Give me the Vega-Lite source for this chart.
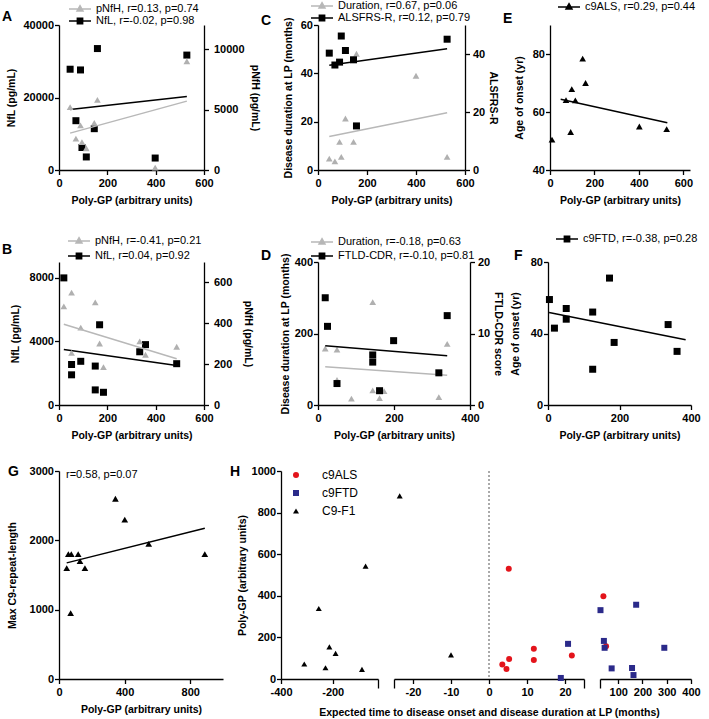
{
"$schema":"https://vega.github.io/schema/vega-lite/v6.json",
"padding":{"left":2,"top":0,"right":2,"bottom":0},
"config":{
 "font":"Liberation Sans",
 "view":{"stroke":null},
 "axis":{"domainColor":"#000000","domainWidth":1.3,"tickColor":"#000000","tickWidth":1.3,"labelFont":"Liberation Sans","labelFontSize":11,"labelFontWeight":"bold","labelColor":"#000000","titleFont":"Liberation Sans","titleFontSize":10.5,"titleFontWeight":"bold","titleColor":"#000000","grid":false,"labelOverlap":false,"labelFlush":false,"labelPadding":1},
 "axisX":{"labelPadding":3,"titlePadding":7},
 "axisRight":{"labelPadding":3},
 "legend":{"labelFont":"Liberation Sans","labelFontSize":11,"labelColor":"#000000","padding":0,"titleFont":"Liberation Sans","titleColor":"#000000"}
},
"resolve":{"scale":{"stroke":"independent","color":"independent","shape":"independent","opacity":"independent"},"legend":{"stroke":"independent","color":"independent","shape":"independent","opacity":"independent"}},
"vconcat":[
 {"vconcat":[
 {"hconcat":[
  {"hconcat":[
   {"width":145,"height":145,
    "layer":[
     {"layer":[
      {"data":{"values":[{"x":46,"y":27800},{"x":89,"y":27600},{"x":159,"y":33500},{"x":70,"y":13600},{"x":146,"y":11400},{"x":95,"y":6200},{"x":113,"y":3600},{"x":398,"y":3300},{"x":529,"y":31700}]},
       "mark":{"type":"point","shape":"square","filled":true,"size":49,"color":"#000000","opacity":1},
       "encoding":{
        "x":{"field":"x","type":"quantitative","title":"Poly-GP (arbitrary units)","scale":{"domain":[0,600],"nice":false},"axis":{"values":[0,100,200,300,400,500,600],"labelOverlap":false,"labelExpr":"datum.value % 200 === 0 ? '' + datum.value : ''","tickSize":{"condition":{"test":"datum.value % 200 === 0","value":4.5},"value":2.5}}},
        "y":{"field":"y","type":"quantitative","title":"NfL (pg/mL)","scale":{"domain":[0,40000],"nice":false},"axis":{"values":[0,5000,10000,15000,20000,25000,30000,35000,40000],"labelOverlap":false,"labelExpr":"datum.value % 10000 === 0 ? '' + datum.value : ''","tickSize":{"condition":{"test":"datum.value % 10000 === 0","value":4.5},"value":2.5},"titlePadding":6}}}},
      {"data":{"values":[{"x":46,"y":16700,"g":"NfL, r=-0.02, p=0.98","p":"A"},{"x":529,"y":20300,"g":"NfL, r=-0.02, p=0.98","p":"A"}]},
       "mark":{"type":"line","strokeWidth":1.5},
       "encoding":{
        "x":{"field":"x","type":"quantitative","title":"Poly-GP (arbitrary units)","scale":{"domain":[0,600],"nice":false}},
        "y":{"field":"y","type":"quantitative","title":"NfL (pg/mL)","scale":{"domain":[0,40000],"nice":false}},
        "opacity":{"field":"p","type":"nominal","scale":{"range":[1]},"legend":{"orient":"none","legendX":-57,"legendY":-15,"title":"A","titleOrient":"left","titleAnchor":"start","titleAlign":"left","titleBaseline":"top","titleFontSize":14,"titleFontWeight":"bold","titlePadding":0,"labelExpr":"''","labelOpacity":0,"symbolOpacity":0,"symbolStrokeWidth":0,"padding":0,"encode":{"symbols":{"update":{"opacity":{"value":0}}}}}},
        "stroke":{"field":"g","type":"nominal","scale":{"domain":["pNfH, r=0.13, p=0.74","NfL, r=-0.02, p=0.98"],"range":["#b8b8b8","#000000"]},
         "legend":{"orient":"none","legendX":9,"legendY":-22,"title":null,"symbolSize":484,"clipHeight":12,"rowPadding":0,"labelOffset":4,"padding":0,
          "encode":{"symbols":{"update":{
           "shape":[{"test":"indexof(datum.value,'pNfH')===0","value":"M-1,0H1M0,-0.3L0.27,0.18L-0.27,0.18Z"},{"value":"M-1,0H1M-0.24,-0.24H0.24V0.24H-0.24Z"}],
           "fill":[{"test":"indexof(datum.value,'pNfH')===0","value":"#b0b0b0"},{"value":"#000000"}],
           "stroke":[{"test":"indexof(datum.value,'pNfH')===0","value":"#b8b8b8"},{"value":"#000000"}],
           "strokeWidth":{"value":1.5},"opacity":{"value":1}}}}}}}}
     ]},
     {"layer":[
      {"data":{"values":[{"x":46,"y":5200},{"x":70,"y":2600},{"x":89,"y":3700},{"x":95,"y":2300},{"x":113,"y":1800},{"x":146,"y":3900},{"x":159,"y":5800},{"x":398,"y":200},{"x":529,"y":9000}]},
       "mark":{"type":"point","shape":"triangle-up","filled":true,"size":45,"color":"#b0b0b0","opacity":1},
       "encoding":{
        "x":{"field":"x","type":"quantitative","title":"Poly-GP (arbitrary units)","scale":{"domain":[0,600],"nice":false}},
        "y":{"field":"y","type":"quantitative","title":"pNfH (pg/mL)","scale":{"domain":[0,12000],"nice":false},"axis":{"orient":"right","values":[0,2500,5000,7500,10000],"labelOverlap":false,"labelPadding":5,"labelExpr":"datum.value % 5000 === 0 ? '' + datum.value : ''","tickSize":{"condition":{"test":"datum.value % 5000 === 0","value":4.5},"value":2.5},"titleAngle":90,"titlePadding":5}}}},
      {"data":{"values":[{"x":46,"y":3050,"g":"pNfH, r=0.13, p=0.74"},{"x":529,"y":5700,"g":"pNfH, r=0.13, p=0.74"}]},
       "mark":{"type":"line","strokeWidth":1.5},
       "encoding":{
        "x":{"field":"x","type":"quantitative","title":"Poly-GP (arbitrary units)","scale":{"domain":[0,600],"nice":false}},
        "y":{"field":"y","type":"quantitative","title":"pNfH (pg/mL)","scale":{"domain":[0,12000],"nice":false}},
        "stroke":{"field":"g","type":"nominal","scale":{"domain":["pNfH, r=0.13, p=0.74","NfL, r=-0.02, p=0.98"],"range":["#b8b8b8","#000000"]}}}}
     ]}
    ],
    "resolve":{"scale":{"y":"independent"}}},
   {"width":147,"height":145,
    "layer":[
     {"layer":[
      {"data":{"values":[{"x":46,"y":4.7},{"x":69,"y":3.6},{"x":88,"y":11.6},{"x":95,"y":5.4},{"x":112,"y":21.3},{"x":145,"y":11.6},{"x":157,"y":48.1},{"x":400,"y":39},{"x":527,"y":5.4}]},
       "mark":{"type":"point","shape":"triangle-up","filled":true,"size":45,"color":"#b0b0b0","opacity":1},
       "encoding":{
        "x":{"field":"x","type":"quantitative","title":"Poly-GP (arbitrary units)","scale":{"domain":[0,600],"nice":false},"axis":{"values":[0,100,200,300,400,500,600],"labelOverlap":false,"labelExpr":"datum.value % 200 === 0 ? '' + datum.value : ''","tickSize":{"condition":{"test":"datum.value % 200 === 0","value":4.5},"value":2.5}}},
        "y":{"field":"y","type":"quantitative","title":"Disease duration at LP (months)","scale":{"domain":[0,60],"nice":false},"axis":{"values":[0,10,20,30,40,50,60],"labelOverlap":false,"labelExpr":"datum.value % 20 === 0 ? '' + datum.value : ''","tickSize":{"condition":{"test":"datum.value % 20 === 0","value":4.5},"value":2.5},"titlePadding":7}}}},
      {"data":{"values":[{"x":46,"y":13.9,"g":"Duration, r=0.67, p=0.06","p":"C"},{"x":527,"y":23.7,"g":"Duration, r=0.67, p=0.06","p":"C"}]},
       "mark":{"type":"line","strokeWidth":1.5},
       "encoding":{
        "x":{"field":"x","type":"quantitative","title":"Poly-GP (arbitrary units)","scale":{"domain":[0,600],"nice":false}},
        "y":{"field":"y","type":"quantitative","title":"Disease duration at LP (months)","scale":{"domain":[0,60],"nice":false}},
        "opacity":{"field":"p","type":"nominal","scale":{"range":[1]},"legend":{"orient":"none","legendX":-57,"legendY":-11,"title":"C","titleOrient":"left","titleAnchor":"start","titleAlign":"left","titleBaseline":"top","titleFontSize":14,"titleFontWeight":"bold","titlePadding":0,"labelExpr":"''","labelOpacity":0,"symbolOpacity":0,"symbolStrokeWidth":0,"padding":0,"encode":{"symbols":{"update":{"opacity":{"value":0}}}}}},
        "stroke":{"field":"g","type":"nominal","scale":{"domain":["Duration, r=0.67, p=0.06","ALSFRS-R, r=0.12, p=0.79"],"range":["#b8b8b8","#000000"]},
         "legend":{"orient":"none","legendX":-8,"legendY":-25,"title":null,"symbolSize":484,"clipHeight":12,"rowPadding":0,"labelOffset":4,"padding":0,
          "encode":{"symbols":{"update":{
           "shape":[{"test":"indexof(datum.value,'Duration')===0","value":"M-1,0H1M0,-0.3L0.27,0.18L-0.27,0.18Z"},{"value":"M-1,0H1M-0.24,-0.24H0.24V0.24H-0.24Z"}],
           "fill":[{"test":"indexof(datum.value,'Duration')===0","value":"#b0b0b0"},{"value":"#000000"}],
           "stroke":[{"test":"indexof(datum.value,'Duration')===0","value":"#b8b8b8"},{"value":"#000000"}],
           "strokeWidth":{"value":1.5},"opacity":{"value":1}}}}}}}}
     ]},
     {"layer":[
      {"data":{"values":[{"x":46,"y":40.3},{"x":69,"y":36.2},{"x":88,"y":37.2},{"x":95,"y":46.2},{"x":112,"y":41.2},{"x":145,"y":38},{"x":157,"y":15.2},{"x":527,"y":45.1}]},
       "mark":{"type":"point","shape":"square","filled":true,"size":49,"color":"#000000","opacity":1},
       "encoding":{
        "x":{"field":"x","type":"quantitative","title":"Poly-GP (arbitrary units)","scale":{"domain":[0,600],"nice":false}},
        "y":{"field":"y","type":"quantitative","title":"ALSFRS-R","scale":{"domain":[0,50],"nice":false},"axis":{"orient":"right","values":[0,10,20,30,40,50],"labelOverlap":false,"tickSize":4.5,"titleAngle":90,"titlePadding":3}}}},
      {"data":{"values":[{"x":46,"y":36.1,"g":"ALSFRS-R, r=0.12, p=0.79"},{"x":527,"y":41.8,"g":"ALSFRS-R, r=0.12, p=0.79"}]},
       "mark":{"type":"line","strokeWidth":1.5},
       "encoding":{
        "x":{"field":"x","type":"quantitative","title":"Poly-GP (arbitrary units)","scale":{"domain":[0,600],"nice":false}},
        "y":{"field":"y","type":"quantitative","title":"ALSFRS-R","scale":{"domain":[0,50],"nice":false}},
        "stroke":{"field":"g","type":"nominal","scale":{"domain":["Duration, r=0.67, p=0.06","ALSFRS-R, r=0.12, p=0.79"],"range":["#b8b8b8","#000000"]}}}}
     ]}
    ],
    "resolve":{"scale":{"y":"independent"}}}
  ],"spacing":114,"bounds":"flush","resolve":{"scale":{"stroke":"independent","color":"independent","shape":"independent","opacity":"independent"},"legend":{"stroke":"independent","color":"independent","shape":"independent","opacity":"independent"}}},
  {"width":140,"height":145,
   "layer":[
    {"data":{"values":[{"x":9,"y":50.5},{"x":72,"y":64.1},{"x":93,"y":53.1},{"x":98,"y":67.9},{"x":114,"y":64},{"x":147,"y":78.4},{"x":160,"y":70},{"x":402,"y":55},{"x":525,"y":54.1}]},
     "mark":{"type":"point","shape":"triangle-up","filled":true,"size":45,"color":"#000000","opacity":1},
     "encoding":{
      "x":{"field":"x","type":"quantitative","title":"Poly-GP (arbitrary units)","scale":{"domain":[0,630],"nice":false},"axis":{"values":[0,100,200,300,400,500,600],"labelOverlap":false,"labelExpr":"datum.value % 200 === 0 ? '' + datum.value : ''","tickSize":{"condition":{"test":"datum.value % 200 === 0","value":4.5},"value":2.5}}},
      "y":{"field":"y","type":"quantitative","title":"Age of onset (yr)","scale":{"domain":[40,90],"nice":false,"zero":false},"axis":{"values":[40,45,50,55,60,65,70,75,80,85,90],"labelOverlap":false,"labelExpr":"datum.value % 10 === 0 ? '' + datum.value : ''","tickSize":{"condition":{"test":"datum.value % 10 === 0","value":4.5},"value":2.5},"titlePadding":8}}}},
    {"data":{"values":[{"x":48,"y":64.4,"g":"c9ALS, r=0.29, p=0.44","p":"E"},{"x":528,"y":56.3,"g":"c9ALS, r=0.29, p=0.44","p":"E"}]},
     "mark":{"type":"line","strokeWidth":1.5},
     "encoding":{
      "x":{"field":"x","type":"quantitative","title":"Poly-GP (arbitrary units)","scale":{"domain":[0,630],"nice":false}},
      "y":{"field":"y","type":"quantitative","title":"Age of onset (yr)","scale":{"domain":[40,90],"nice":false,"zero":false}},
      "opacity":{"field":"p","type":"nominal","scale":{"range":[1]},"legend":{"orient":"none","legendX":-47,"legendY":-13,"title":"E","titleOrient":"left","titleAnchor":"start","titleAlign":"left","titleBaseline":"top","titleFontSize":14,"titleFontWeight":"bold","titlePadding":0,"labelExpr":"''","labelOpacity":0,"symbolOpacity":0,"symbolStrokeWidth":0,"padding":0,"encode":{"symbols":{"update":{"opacity":{"value":0}}}}}},
      "stroke":{"field":"g","type":"nominal","scale":{"range":["#000000"]},
       "legend":{"orient":"none","legendX":7,"legendY":-24,"title":null,"symbolSize":484,"clipHeight":12,"labelOffset":4,"padding":0,
        "encode":{"symbols":{"update":{"shape":{"value":"M-1,0H1M0,-0.3L0.27,0.18L-0.27,0.18Z"},"fill":{"value":"#000000"},"stroke":{"value":"#000000"},"strokeWidth":{"value":1.5},"opacity":{"value":1}}}}}}}}
   ]}
 ],"spacing":5,"resolve":{"scale":{"stroke":"independent","color":"independent","shape":"independent","opacity":"independent"},"legend":{"stroke":"independent","color":"independent","shape":"independent","opacity":"independent"}}},
 {"hconcat":[
  {"hconcat":[
   {"width":145,"height":143,
    "layer":[
     {"layer":[
      {"data":{"values":[{"x":20,"y":8000},{"x":52,"y":2550},{"x":52,"y":1900},{"x":90,"y":2750},{"x":168,"y":5050},{"x":150,"y":2450},{"x":150,"y":950},{"x":184,"y":800},{"x":334,"y":3350},{"x":358,"y":3800},{"x":487,"y":2600}]},
       "mark":{"type":"point","shape":"square","filled":true,"size":49,"color":"#000000","opacity":1},
       "encoding":{
        "x":{"field":"x","type":"quantitative","title":"Poly-GP (arbitrary units)","scale":{"domain":[0,600],"nice":false},"axis":{"values":[0,100,200,300,400,500,600],"labelOverlap":false,"labelExpr":"datum.value % 200 === 0 ? '' + datum.value : ''","tickSize":{"condition":{"test":"datum.value % 200 === 0","value":4.5},"value":2.5}}},
        "y":{"field":"y","type":"quantitative","title":"NfL (pg/mL)","scale":{"domain":[0,9000],"nice":false},"axis":{"values":[0,1000,2000,3000,4000,5000,6000,7000,8000,9000],"labelOverlap":false,"labelExpr":"datum.value % 2000 === 0 ? '' + datum.value : ''","tickSize":{"condition":{"test":"datum.value % 2000 === 0","value":4.5},"value":2.5},"titlePadding":9}}}},
      {"data":{"values":[{"x":20,"y":3490,"g":"NfL, r=0.04, p=0.92","p":"B"},{"x":487,"y":2480,"g":"NfL, r=0.04, p=0.92","p":"B"}]},
       "mark":{"type":"line","strokeWidth":1.5},
       "encoding":{
        "x":{"field":"x","type":"quantitative","title":"Poly-GP (arbitrary units)","scale":{"domain":[0,600],"nice":false}},
        "y":{"field":"y","type":"quantitative","title":"NfL (pg/mL)","scale":{"domain":[0,9000],"nice":false}},
        "opacity":{"field":"p","type":"nominal","scale":{"range":[1]},"legend":{"orient":"none","legendX":-57,"legendY":-19,"title":"B","titleOrient":"left","titleAnchor":"start","titleAlign":"left","titleBaseline":"top","titleFontSize":14,"titleFontWeight":"bold","titlePadding":0,"labelExpr":"''","labelOpacity":0,"symbolOpacity":0,"symbolStrokeWidth":0,"padding":0,"encode":{"symbols":{"update":{"opacity":{"value":0}}}}}},
        "stroke":{"field":"g","type":"nominal","scale":{"domain":["pNfH, r=-0.41, p=0.21","NfL, r=0.04, p=0.92"],"range":["#b8b8b8","#000000"]},
         "legend":{"orient":"none","legendX":8,"legendY":-27.5,"title":null,"symbolSize":484,"clipHeight":13,"rowPadding":2,"labelOffset":4,"padding":0,
          "encode":{"symbols":{"update":{
           "shape":[{"test":"indexof(datum.value,'pNfH')===0","value":"M-1,0H1M0,-0.3L0.27,0.18L-0.27,0.18Z"},{"value":"M-1,0H1M-0.24,-0.24H0.24V0.24H-0.24Z"}],
           "fill":[{"test":"indexof(datum.value,'pNfH')===0","value":"#b0b0b0"},{"value":"#000000"}],
           "stroke":[{"test":"indexof(datum.value,'pNfH')===0","value":"#b8b8b8"},{"value":"#000000"}],
           "strokeWidth":{"value":1.5},"opacity":{"value":1}}}}}}}}
     ]},
     {"layer":[
      {"data":{"values":[{"x":20,"y":483},{"x":52,"y":550},{"x":52,"y":255},{"x":90,"y":379},{"x":150,"y":502},{"x":168,"y":301},{"x":184,"y":185},{"x":334,"y":311},{"x":358,"y":246},{"x":487,"y":285}]},
       "mark":{"type":"point","shape":"triangle-up","filled":true,"size":45,"color":"#b0b0b0","opacity":1},
       "encoding":{
        "x":{"field":"x","type":"quantitative","title":"Poly-GP (arbitrary units)","scale":{"domain":[0,600],"nice":false}},
        "y":{"field":"y","type":"quantitative","title":"pNfH (pg/mL)","scale":{"domain":[0,700],"nice":false},"axis":{"orient":"right","values":[0,100,200,300,400,500,600,700],"labelOverlap":false,"labelPadding":5,"labelExpr":"datum.value % 200 === 0 ? '' + datum.value : ''","tickSize":{"condition":{"test":"datum.value % 200 === 0","value":4.5},"value":2.5},"titleAngle":90,"titlePadding":11}}}},
      {"data":{"values":[{"x":20,"y":395,"g":"pNfH, r=-0.41, p=0.21"},{"x":487,"y":226,"g":"pNfH, r=-0.41, p=0.21"}]},
       "mark":{"type":"line","strokeWidth":1.5},
       "encoding":{
        "x":{"field":"x","type":"quantitative","title":"Poly-GP (arbitrary units)","scale":{"domain":[0,600],"nice":false}},
        "y":{"field":"y","type":"quantitative","title":"pNfH (pg/mL)","scale":{"domain":[0,700],"nice":false}},
        "stroke":{"field":"g","type":"nominal","scale":{"domain":["pNfH, r=-0.41, p=0.21","NfL, r=0.04, p=0.92"],"range":["#b8b8b8","#000000"]}}}}
     ]}
    ],
    "resolve":{"scale":{"y":"independent"}}},
   {"width":152,"height":143,
    "layer":[
     {"layer":[
      {"data":{"values":[{"x":19,"y":158},{"x":50,"y":155},{"x":50,"y":70},{"x":88,"y":18},{"x":144,"y":288},{"x":144,"y":41},{"x":162,"y":19},{"x":174,"y":39},{"x":318,"y":22},{"x":340,"y":171}]},
       "mark":{"type":"point","shape":"triangle-up","filled":true,"size":45,"color":"#b0b0b0","opacity":1},
       "encoding":{
        "x":{"field":"x","type":"quantitative","title":"Poly-GP (arbitrary units)","scale":{"domain":[0,400],"nice":false},"axis":{"values":[0,50,100,150,200,250,300,350,400],"labelOverlap":false,"labelExpr":"datum.value % 100 === 0 ? '' + datum.value : ''","tickSize":{"condition":{"test":"datum.value % 100 === 0","value":4.5},"value":2.5}}},
        "y":{"field":"y","type":"quantitative","title":"Disease duration at LP (months)","scale":{"domain":[0,400],"nice":false},"axis":{"values":[0,50,100,150,200,250,300,350,400],"labelOverlap":false,"labelExpr":"datum.value % 100 === 0 ? '' + datum.value : ''","tickSize":{"condition":{"test":"datum.value % 100 === 0","value":4.5},"value":2.5},"titlePadding":4}}}},
      {"data":{"values":[{"x":19,"y":107,"g":"Duration, r=-0.18, p=0.63","p":"D"},{"x":340,"y":83,"g":"Duration, r=-0.18, p=0.63","p":"D"}]},
       "mark":{"type":"line","strokeWidth":1.5},
       "encoding":{
        "x":{"field":"x","type":"quantitative","title":"Poly-GP (arbitrary units)","scale":{"domain":[0,400],"nice":false}},
        "y":{"field":"y","type":"quantitative","title":"Disease duration at LP (months)","scale":{"domain":[0,400],"nice":false}},
        "opacity":{"field":"p","type":"nominal","scale":{"range":[1]},"legend":{"orient":"none","legendX":-57,"legendY":-13,"title":"D","titleOrient":"left","titleAnchor":"start","titleAlign":"left","titleBaseline":"top","titleFontSize":14,"titleFontWeight":"bold","titlePadding":0,"labelExpr":"''","labelOpacity":0,"symbolOpacity":0,"symbolStrokeWidth":0,"padding":0,"encode":{"symbols":{"update":{"opacity":{"value":0}}}}}},
        "stroke":{"field":"g","type":"nominal","scale":{"domain":["Duration, r=-0.18, p=0.63","FTLD-CDR, r=-0.10, p=0.81"],"range":["#b8b8b8","#000000"]},
         "legend":{"orient":"none","legendX":-8,"legendY":-26.5,"title":null,"symbolSize":484,"clipHeight":13,"rowPadding":1,"labelOffset":4,"padding":0,
          "encode":{"symbols":{"update":{
           "shape":[{"test":"indexof(datum.value,'Duration')===0","value":"M-1,0H1M0,-0.3L0.27,0.18L-0.27,0.18Z"},{"value":"M-1,0H1M-0.24,-0.24H0.24V0.24H-0.24Z"}],
           "fill":[{"test":"indexof(datum.value,'Duration')===0","value":"#b0b0b0"},{"value":"#000000"}],
           "stroke":[{"test":"indexof(datum.value,'Duration')===0","value":"#b8b8b8"},{"value":"#000000"}],
           "strokeWidth":{"value":1.5},"opacity":{"value":1}}}}}}}}
     ]},
     {"layer":[
      {"data":{"values":[{"x":19,"y":15},{"x":25,"y":11},{"x":50,"y":3},{"x":144,"y":7},{"x":144,"y":6},{"x":162,"y":2},{"x":199,"y":9},{"x":318,"y":4.5},{"x":340,"y":12.5}]},
       "mark":{"type":"point","shape":"square","filled":true,"size":49,"color":"#000000","opacity":1},
       "encoding":{
        "x":{"field":"x","type":"quantitative","title":"Poly-GP (arbitrary units)","scale":{"domain":[0,400],"nice":false}},
        "y":{"field":"y","type":"quantitative","title":"FTLD-CDR score","scale":{"domain":[0,20],"nice":false},"axis":{"orient":"right","values":[0,2.5,5,7.5,10,12.5,15,17.5,20],"labelOverlap":false,"labelExpr":"datum.value % 5 === 0 ? '' + datum.value : ''","tickSize":{"condition":{"test":"datum.value % 5 === 0","value":4.5},"value":2.5},"titleAngle":90,"titlePadding":3}}}},
      {"data":{"values":[{"x":19,"y":8.3,"g":"FTLD-CDR, r=-0.10, p=0.81"},{"x":340,"y":6.9,"g":"FTLD-CDR, r=-0.10, p=0.81"}]},
       "mark":{"type":"line","strokeWidth":1.5},
       "encoding":{
        "x":{"field":"x","type":"quantitative","title":"Poly-GP (arbitrary units)","scale":{"domain":[0,400],"nice":false}},
        "y":{"field":"y","type":"quantitative","title":"FTLD-CDR score","scale":{"domain":[0,20],"nice":false}},
        "stroke":{"field":"g","type":"nominal","scale":{"domain":["Duration, r=-0.18, p=0.63","FTLD-CDR, r=-0.10, p=0.81"],"range":["#b8b8b8","#000000"]}}}}
     ]}
    ],
    "resolve":{"scale":{"y":"independent"}}}
  ],"spacing":114,"bounds":"flush","resolve":{"scale":{"stroke":"independent","color":"independent","shape":"independent","opacity":"independent"},"legend":{"stroke":"independent","color":"independent","shape":"independent","opacity":"independent"}}},
  {"width":143,"height":143,
   "layer":[
    {"data":{"values":[{"x":4,"y":59},{"x":18,"y":43},{"x":51,"y":54},{"x":51,"y":48},{"x":125,"y":52},{"x":125,"y":20},{"x":172,"y":71},{"x":185,"y":35},{"x":336,"y":45},{"x":361,"y":30}]},
     "mark":{"type":"point","shape":"square","filled":true,"size":49,"color":"#000000","opacity":1},
     "encoding":{
      "x":{"field":"x","type":"quantitative","title":"Poly-GP (arbitrary units)","scale":{"domain":[0,400],"nice":false},"axis":{"values":[0,50,100,150,200,250,300,350,400],"labelOverlap":false,"labelExpr":"datum.value % 100 === 0 ? '' + datum.value : ''","tickSize":{"condition":{"test":"datum.value % 100 === 0","value":4.5},"value":2.5}}},
      "y":{"field":"y","type":"quantitative","title":"Age of onset (yr)","scale":{"domain":[0,80],"nice":false},"axis":{"values":[0,10,20,30,40,50,60,70,80],"labelOverlap":false,"labelExpr":"datum.value % 20 === 0 ? '' + datum.value : ''","tickSize":{"condition":{"test":"datum.value % 20 === 0","value":4.5},"value":2.5},"titlePadding":10}}}},
    {"data":{"values":[{"x":3,"y":51.7,"g":"c9FTD, r=-0.38, p=0.28","p":"F"},{"x":385,"y":36.5,"g":"c9FTD, r=-0.38, p=0.28","p":"F"}]},
     "mark":{"type":"line","strokeWidth":1.5},
     "encoding":{
      "x":{"field":"x","type":"quantitative","title":"Poly-GP (arbitrary units)","scale":{"domain":[0,400],"nice":false}},
      "y":{"field":"y","type":"quantitative","title":"Age of onset (yr)","scale":{"domain":[0,80],"nice":false}},
      "opacity":{"field":"p","type":"nominal","scale":{"range":[1]},"legend":{"orient":"none","legendX":-34,"legendY":-13,"title":"F","titleOrient":"left","titleAnchor":"start","titleAlign":"left","titleBaseline":"top","titleFontSize":14,"titleFontWeight":"bold","titlePadding":0,"labelExpr":"''","labelOpacity":0,"symbolOpacity":0,"symbolStrokeWidth":0,"padding":0,"encode":{"symbols":{"update":{"opacity":{"value":0}}}}}},
      "stroke":{"field":"g","type":"nominal","scale":{"range":["#000000"]},
       "legend":{"orient":"none","legendX":7,"legendY":-29,"title":null,"symbolSize":484,"clipHeight":12,"labelOffset":4,"padding":0,
        "encode":{"symbols":{"update":{"shape":{"value":"M-1,0H1M-0.24,-0.24H0.24V0.24H-0.24Z"},"fill":{"value":"#000000"},"stroke":{"value":"#000000"},"strokeWidth":{"value":1.5},"opacity":{"value":1}}}}}}}}
   ]}
 ],"spacing":7,"resolve":{"scale":{"stroke":"independent","color":"independent","shape":"independent","opacity":"independent"},"legend":{"stroke":"independent","color":"independent","shape":"independent","opacity":"independent"}}}
 ],"spacing":27,"resolve":{"scale":{"stroke":"independent","color":"independent","shape":"independent","opacity":"independent"},"legend":{"stroke":"independent","color":"independent","shape":"independent","opacity":"independent"}}},
 {"hconcat":[
  {"width":164,"height":208,
   "layer":[
    {"data":{"values":[{"x":47,"y":1600},{"x":57,"y":1800},{"x":75,"y":1800},{"x":71,"y":950},{"x":117,"y":1800},{"x":128,"y":1700},{"x":158,"y":1600},{"x":344,"y":2600},{"x":401,"y":2300},{"x":547,"y":1950},{"x":889,"y":1800}]},
     "mark":{"type":"point","shape":"triangle-up","filled":true,"size":45,"color":"#000000","opacity":1},
     "encoding":{
      "x":{"field":"x","type":"quantitative","title":"Poly-GP (arbitrary units)","scale":{"domain":[0,1000],"nice":false},"axis":{"values":[0,100,200,300,400,500,600,700,800,900,1000],"labelOverlap":false,"labelExpr":"datum.value % 200 === 0 ? '' + datum.value : ''","tickSize":{"condition":{"test":"datum.value % 200 === 0","value":4.5},"value":2.5}}},
      "y":{"field":"y","type":"quantitative","title":"Max C9-repeat-length","scale":{"domain":[0,3000],"nice":false},"axis":{"values":[0,250,500,750,1000,1250,1500,1750,2000,2250,2500,2750,3000],"labelOverlap":false,"labelExpr":"datum.value % 1000 === 0 ? '' + datum.value : ''","tickSize":{"condition":{"test":"datum.value % 1000 === 0","value":4.5},"value":2.5},"titlePadding":12}}}},
    {"data":{"values":[{"x":47,"y":1675,"g":"r=0.58, p=0.07","p":"G"},{"x":889,"y":2175,"g":"r=0.58, p=0.07","p":"G"}]},
     "mark":{"type":"line","strokeWidth":1.5},
     "encoding":{
      "x":{"field":"x","type":"quantitative","title":"Poly-GP (arbitrary units)","scale":{"domain":[0,1000],"nice":false}},
      "y":{"field":"y","type":"quantitative","title":"Max C9-repeat-length","scale":{"domain":[0,3000],"nice":false}},
      "opacity":{"field":"p","type":"nominal","scale":{"range":[1]},"legend":{"orient":"none","legendX":-51,"legendY":-6,"title":"G","titleOrient":"left","titleAnchor":"start","titleAlign":"left","titleBaseline":"top","titleFontSize":14,"titleFontWeight":"bold","titlePadding":0,"labelExpr":"''","labelOpacity":0,"symbolOpacity":0,"symbolStrokeWidth":0,"padding":0,"encode":{"symbols":{"update":{"opacity":{"value":0}}}}}},
      "stroke":{"field":"g","type":"nominal","scale":{"range":["#000000"]},
       "legend":{"orient":"none","legendX":7,"legendY":-2,"title":"r=0.58, p=0.07","titleOrient":"left","titleAnchor":"start","titleAlign":"left","titleBaseline":"top","titleFontSize":11,"titleFontWeight":"normal","titlePadding":0,"labelExpr":"''","labelOpacity":0,"symbolOpacity":0,"symbolStrokeWidth":0,"padding":0,"encode":{"symbols":{"update":{"opacity":{"value":0}}}}}}}}
   ]},
  {"hconcat":[
   {"width":97,"height":208,
    "data":{"values":[{"x":-310,"y":72,"grp":"C9-F1","p":"H"},{"x":-254,"y":339,"grp":"C9-F1","p":"H"},{"x":-228,"y":54,"grp":"C9-F1","p":"H"},{"x":-213,"y":154,"grp":"C9-F1","p":"H"},{"x":-189,"y":123,"grp":"C9-F1","p":"H"},{"x":-87,"y":46,"grp":"C9-F1","p":"H"},{"x":-73,"y":543,"grp":"C9-F1","p":"H"}]},
    "layer":[
     {"mark":{"type":"point","filled":true,"size":36,"opacity":1},
      "encoding":{
       "x":{"field":"x","type":"quantitative","title":null,"scale":{"domain":[-400,-25],"nice":false,"zero":false},"axis":{"values":[-400,-300,-200,-100,-25],"labelOverlap":false,"labelExpr":"datum.value === -25 ? '' : '' + datum.value","tickSize":{"condition":{"test":"datum.value === -25","value":9},"value":4.5},"title":null}},
       "y":{"field":"y","type":"quantitative","title":"Poly-GP (arbitrary units)","scale":{"domain":[0,1000],"nice":false},"axis":{"values":[0,100,200,300,400,500,600,700,800,900,1000],"labelOverlap":false,"labelExpr":"datum.value % 200 === 0 ? '' + datum.value : ''","tickSize":{"condition":{"test":"datum.value % 200 === 0","value":4.5},"value":2.5},"titlePadding":4}},
       "color":{"field":"grp","type":"nominal","scale":{"domain":["c9ALS","c9FTD","C9-F1"],"range":["#e3141b","#2b2a8a","#000000"]},"legend":{"orient":"none","legendX":9,"legendY":-2,"title":null,"symbolSize":36,"labelFontSize":12,"labelOffset":20,"rowPadding":6,"padding":0,"symbolStrokeWidth":0}},
       "shape":{"field":"grp","type":"nominal","scale":{"domain":["c9ALS","c9FTD","C9-F1"],"range":["circle","square","triangle-up"]},"legend":{"orient":"none","legendX":9,"legendY":-2,"title":null,"symbolSize":36,"labelFontSize":12,"labelOffset":20,"rowPadding":6,"padding":0,"symbolStrokeWidth":0}}}},
     {"mark":{"type":"line","strokeWidth":0},
      "encoding":{
       "x":{"field":"x","type":"quantitative","title":null,"scale":{"domain":[-400,-25],"nice":false,"zero":false}},
       "y":{"field":"y","type":"quantitative","title":"Poly-GP (arbitrary units)","scale":{"domain":[0,1000],"nice":false}},
       "opacity":{"field":"p","type":"nominal","scale":{"range":[1]},"legend":{"orient":"none","legendX":-51,"legendY":-6,"title":"H","titleOrient":"left","titleAnchor":"start","titleAlign":"left","titleBaseline":"top","titleFontSize":14,"titleFontWeight":"bold","titlePadding":0,"labelExpr":"''","labelOpacity":0,"symbolOpacity":0,"symbolStrokeWidth":0,"padding":0,"encode":{"symbols":{"update":{"opacity":{"value":0}}}}}}}}
    ]},
   {"width":190,"height":208,
    "layer":[
     {"data":{"values":[{}]},
      "mark":{"type":"rule","strokeDash":[2,2],"color":"#555555","strokeWidth":1},
      "encoding":{"x":{"datum":0,"type":"quantitative","title":"Expected time to disease onset and disease duration at LP (months)","scale":{"domain":[-25,25],"nice":false,"zero":false},"axis":{"values":[-25,-20,-10,0,10,20,25],"labelOverlap":false,"labelExpr":"abs(datum.value) === 25 ? '' : '' + datum.value","tickSize":{"condition":{"test":"abs(datum.value) === 25","value":9},"value":4.5},"titlePadding":5}}}},
     {"data":{"values":[{"x":-23.5,"y":880,"grp":"C9-F1"},{"x":-10,"y":116,"grp":"C9-F1"},{"x":3.5,"y":70,"grp":"c9ALS"},{"x":4.6,"y":48,"grp":"c9ALS"},{"x":5.2,"y":530,"grp":"c9ALS"},{"x":5.3,"y":96,"grp":"c9ALS"},{"x":11.8,"y":146,"grp":"c9ALS"},{"x":11.8,"y":91,"grp":"c9ALS"},{"x":21.8,"y":113,"grp":"c9ALS"},{"x":20.8,"y":169,"grp":"c9FTD"},{"x":18.9,"y":5,"grp":"c9FTD"}]},
      "mark":{"type":"point","filled":true,"size":36,"opacity":1},
      "encoding":{
       "x":{"field":"x","type":"quantitative","title":"Expected time to disease onset and disease duration at LP (months)","scale":{"domain":[-25,25],"nice":false,"zero":false},"axis":{"values":[-25,-20,-10,0,10,20,25],"labelOverlap":false,"labelExpr":"abs(datum.value) === 25 ? '' : '' + datum.value","tickSize":{"condition":{"test":"abs(datum.value) === 25","value":9},"value":4.5},"titlePadding":5}},
       "y":{"field":"y","type":"quantitative","scale":{"domain":[0,1000],"nice":false},"axis":null},
       "color":{"field":"grp","type":"nominal","scale":{"domain":["c9ALS","c9FTD","C9-F1"],"range":["#e3141b","#2b2a8a","#000000"]},"legend":null},
       "shape":{"field":"grp","type":"nominal","scale":{"domain":["c9ALS","c9FTD","C9-F1"],"range":["circle","square","triangle-up"]},"legend":null}}}
    ]},
   {"width":91,"height":208,
    "data":{"values":[{"x":39,"y":398,"grp":"c9ALS"},{"x":50,"y":158,"grp":"c9ALS"},{"x":27,"y":331,"grp":"c9FTD"},{"x":41,"y":183,"grp":"c9FTD"},{"x":44,"y":150,"grp":"c9FTD"},{"x":73,"y":51,"grp":"c9FTD"},{"x":157,"y":53,"grp":"c9FTD"},{"x":163,"y":19,"grp":"c9FTD"},{"x":174,"y":357,"grp":"c9FTD"},{"x":290,"y":150,"grp":"c9FTD"}]},
    "mark":{"type":"point","filled":true,"size":36,"opacity":1},
    "encoding":{
     "x":{"field":"x","type":"quantitative","scale":{"domain":[25,400],"nice":false,"zero":false},"axis":{"values":[25,100,200,300,400],"labelOverlap":false,"labelExpr":"datum.value === 25 ? '' : '' + datum.value","tickSize":{"condition":{"test":"datum.value === 25","value":9},"value":4.5},"title":null}},
     "y":{"field":"y","type":"quantitative","scale":{"domain":[0,1000],"nice":false},"axis":null},
     "color":{"field":"grp","type":"nominal","scale":{"domain":["c9ALS","c9FTD","C9-F1"],"range":["#e3141b","#2b2a8a","#000000"]},"legend":null},
     "shape":{"field":"grp","type":"nominal","scale":{"domain":["c9ALS","c9FTD","C9-F1"],"range":["circle","square","triangle-up"]},"legend":null}}}
  ],"spacing":16,"bounds":"flush","resolve":{"scale":{"stroke":"independent","color":"independent","shape":"independent","opacity":"independent"},"legend":{"stroke":"independent","color":"independent","shape":"independent","opacity":"independent"}}}
 ],"spacing":7,"resolve":{"scale":{"stroke":"independent","color":"independent","shape":"independent","opacity":"independent"},"legend":{"stroke":"independent","color":"independent","shape":"independent","opacity":"independent"}}}
],
"spacing":24
}
